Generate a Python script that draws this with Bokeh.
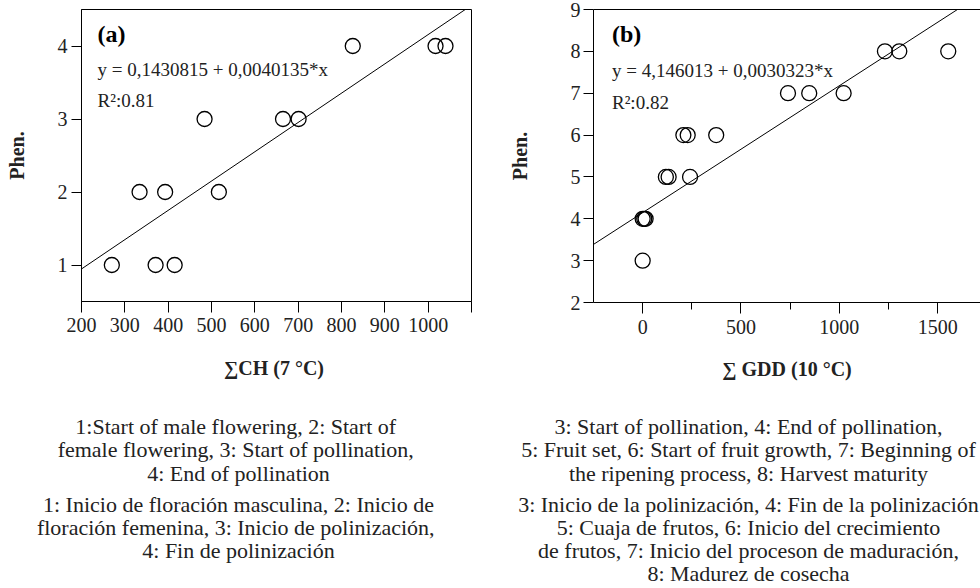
from bokeh.plotting import figure
from bokeh.models import FixedTicker, Label, LinearAxis, Range1d
from bokeh.layouts import row, column
from bokeh.embed import file_html
from bokeh.resources import INLINE

# ---- data panel (a): chill hours vs phenological stage
ch_x = [270, 371, 415, 334, 393, 517, 484, 665, 701, 826, 1017, 1040]
ch_y = [1, 1, 1, 2, 2, 2, 3, 3, 3, 4, 4, 4]
a_intercept = 0.1430815
a_slope = 0.0040135

# ---- data panel (b): growing degree days vs phenological stage
gdd_x = [0, 0, 8, 15, 118, 132, 241, 207, 229, 374, 739, 847, 1022, 1232, 1305, 1554]
gdd_y = [3, 4, 4, 4, 5, 5, 5, 6, 6, 6, 7, 7, 7, 8, 8, 8]
b_intercept = 4.146013
b_slope = 0.0030323

a_xticks = [200, 300, 400, 500, 600, 700, 800, 900, 1000, 1100]
a_yticks = [1, 2, 3, 4]
b_xticks = [0, 500, 1000, 1500]
b_xminor = [250, 750, 1250]
b_yticks = [2, 3, 4, 5, 6, 7, 8, 9]

cap_a = ["1:Start of male flowering,  2: Start of",
         "female flowering,  3: Start of pollination,",
         "4: End of pollination",
         "1: Inicio de floración masculina, 2: Inicio de",
         "floración femenina,  3: Inicio de polinización,",
         "4: Fin de polinización"]
cap_b = ["3: Start of pollination, 4: End of pollination,",
         "5: Fruit set, 6: Start of fruit growth, 7: Beginning of",
         "the ripening process, 8: Harvest maturity",
         "3: Inicio de la polinización, 4: Fin de la polinización",
         "5: Cuaja de frutos, 6: Inicio del crecimiento",
         "de frutos, 7: Inicio del proceson de maduración,",
         "8: Madurez de cosecha"]

FONT = "Liberation Serif"
TXT = "#222222"
PLOT_H = 390
CAP_H = 198
PW = 490


def style_axes(p):
    for ax in p.axis:
        ax.axis_line_color = "black"
        ax.major_tick_line_color = "black"
        ax.minor_tick_line_color = "black"
        ax.major_label_text_font = FONT
        ax.major_label_text_font_size = "20px"
        ax.major_label_text_color = TXT
        ax.axis_label_text_font = FONT
        ax.axis_label_text_font_size = "20px"
        ax.axis_label_text_font_style = "bold"
        ax.axis_label_text_color = TXT
    p.grid.visible = False


# ---------------- panel (a)
pa = figure(frame_width=390, frame_height=292, output_backend="svg", toolbar_location=None,
            x_range=Range1d(200, 1100), y_range=Range1d(0.5, 4.5),
            min_border_left=81, min_border_right=PW - 81 - 390, min_border_top=9,
            min_border_bottom=PLOT_H - 9 - 292)
pa.outline_line_color = "black"
pa.outline_line_alpha = 1
pa.xaxis.ticker = FixedTicker(ticks=a_xticks, minor_ticks=[])
pa.xaxis.major_label_overrides = {1100: ""}
pa.yaxis.ticker = FixedTicker(ticks=a_yticks, minor_ticks=[])
style_axes(pa)
pa.xaxis.major_tick_out = 11
pa.xaxis.major_tick_in = 0
pa.xaxis.major_label_standoff = 5
pa.xaxis.axis_label = "∑CH  (7 °C)"
pa.xaxis.axis_label_standoff = 22
pa.yaxis.major_tick_out = 10
pa.yaxis.major_tick_in = 0
pa.yaxis.major_label_standoff = 4
pa.yaxis.axis_label = "Phen."
pa.yaxis.axis_label_standoff = 27

ax_line = [200, 1100]
pa.line(ax_line, [a_intercept + a_slope * v for v in ax_line], line_color="black", line_width=1)
pa.scatter(ch_x, ch_y, marker="circle", size=15, fill_color=None, line_color="black", line_width=1.3)

pa.add_layout(Label(x=237, y=4.17, text="(a)", text_font=FONT, text_font_size="24px",
                    text_font_style="bold", text_baseline="middle", text_color="black"))
pa.add_layout(Label(x=237, y=3.68, text="y = 0,1430815 + 0,0040135*x", text_font=FONT,
                    text_font_size="19px", text_baseline="middle", text_color=TXT))
pa.add_layout(Label(x=237, y=3.25, text="R²:0.81", text_font=FONT,
                    text_font_size="19px", text_baseline="middle", text_color=TXT))

# ---------------- panel (b)
pb = figure(frame_width=387, frame_height=293, output_backend="svg", toolbar_location=None,
            x_range=Range1d(-250, 1718), y_range=Range1d(2, 9),
            min_border_left=103, min_border_right=0, min_border_top=9,
            min_border_bottom=PLOT_H - 9 - 293)
pb.outline_line_color = None
pb.xaxis.ticker = FixedTicker(ticks=b_xticks, minor_ticks=b_xminor)
pb.yaxis.ticker = FixedTicker(ticks=b_yticks, minor_ticks=[])
top = LinearAxis(ticker=FixedTicker(ticks=[], minor_ticks=[]), major_tick_out=0, minor_tick_out=0,
                 major_label_standoff=0, major_label_text_font_size="0px", axis_label_standoff=0)
pb.add_layout(top, "above")
style_axes(pb)
bx = pb.below[0]
bx.major_tick_out = 11
bx.major_tick_in = 0
bx.minor_tick_out = 7
bx.minor_tick_in = 0
bx.major_label_standoff = 6
bx.axis_label = "∑ GDD (10 °C)"
bx.axis_label_standoff = 21
pb.yaxis.major_tick_out = 10
pb.yaxis.major_tick_in = 0
pb.yaxis.major_label_standoff = 3
pb.yaxis.axis_label = "Phen."
pb.yaxis.axis_label_standoff = 37

bx_line = [-250, 1718]
pb.line(bx_line, [b_intercept + b_slope * v for v in bx_line], line_color="black", line_width=1)
pb.scatter(gdd_x, gdd_y, marker="circle", size=15, fill_color=None, line_color="black", line_width=1.3)

pb.add_layout(Label(x=-156, y=8.42, text="(b)", text_font=FONT, text_font_size="24px",
                    text_font_style="bold", text_baseline="middle", text_color="black"))
pb.add_layout(Label(x=-156, y=7.54, text="y = 4,146013 + 0,0030323*x", text_font=FONT,
                    text_font_size="19px", text_baseline="middle", text_color=TXT))
pb.add_layout(Label(x=-156, y=6.78, text="R²:0.82", text_font=FONT,
                    text_font_size="19px", text_baseline="middle", text_color=TXT))

# ---------------- captions (one full-width strip under both panels)
cap = figure(width=2 * PW, height=CAP_H, output_backend="svg", toolbar_location=None,
             x_range=Range1d(0, 2 * PW), y_range=Range1d(CAP_H, 0),
             x_axis_type=None, y_axis_type=None, min_border=0)
cap.outline_line_color = None
cap.grid.visible = False
ys_a = [36, 59, 83, 114, 137, 160]
ys_b = [36, 59, 83, 114, 137, 160, 183]
for t, y in zip(cap_a, ys_a):
    cap.add_layout(Label(x=238, y=y, text=t, text_align="center", text_baseline="middle",
                         text_font=FONT, text_font_size="22px", text_color=TXT))
for t, y in zip(cap_b, ys_b):
    cap.add_layout(Label(x=748, y=y, text=t, text_align="center", text_baseline="middle",
                         text_font=FONT, text_font_size="22px", text_color=TXT))

layout = column(row(pa, pb, spacing=0), cap, spacing=0)
open("out.html", "w").write(file_html(layout, INLINE))
